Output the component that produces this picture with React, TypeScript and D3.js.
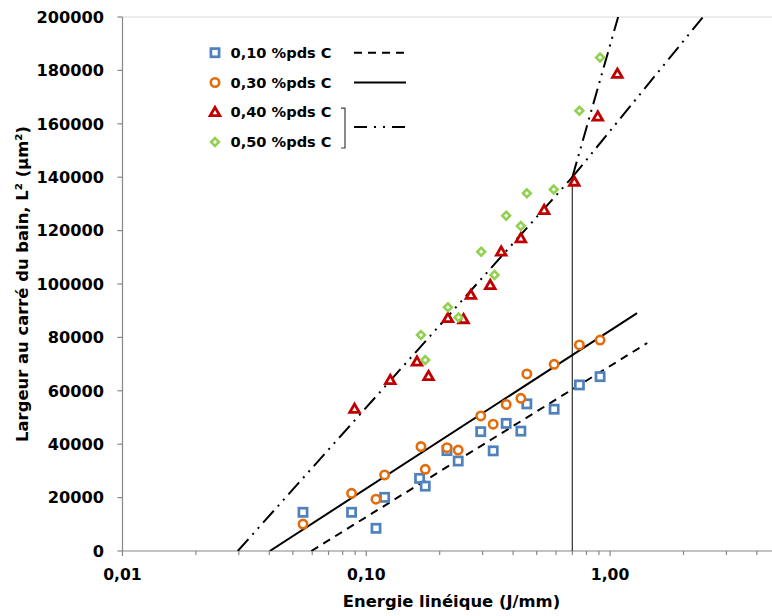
import React from 'react';
import * as d3 from 'd3';

// ---------- data ----------
const s010X = [0.055, 0.087, 0.1096, 0.1189, 0.1654, 0.1745, 0.2142, 0.2382, 0.2947, 0.3315, 0.3748, 0.4305, 0.4556, 0.5895, 0.7484, 0.9099];
const s010Y = [14500, 14500, 8500, 20100, 27200, 24300, 37600, 33700, 44700, 37500, 47800, 44900, 55100, 53100, 62200, 65300];

const s030X = [0.055, 0.087, 0.1096, 0.1189, 0.1676, 0.1745, 0.2142, 0.2382, 0.2947, 0.3315, 0.3748, 0.4305, 0.4556, 0.5895, 0.7484, 0.9099];
const s030Y = [10100, 21600, 19400, 28500, 39100, 30600, 38700, 37800, 50600, 47500, 54900, 57200, 66300, 69900, 77200, 79000];

const s040X = [0.0895, 0.1254, 0.1614, 0.18, 0.2162, 0.2505, 0.2686, 0.3223, 0.3576, 0.4305, 0.5364, 0.7134, 0.8903, 1.0713];
const s040Y = [53200, 64000, 70900, 65500, 87200, 86800, 95900, 99600, 112100, 117100, 127700, 138300, 162700, 178700];

const s050X = [0.1676, 0.1745, 0.2162, 0.2389, 0.296, 0.3356, 0.3748, 0.4305, 0.4556, 0.5872, 0.7484, 0.9099];
const s050Y = [80900, 71500, 91300, 87500, 112100, 103400, 125600, 121700, 134000, 135400, 164900, 184800];

// trend lines (end points)
const trend010X = [0.0595, 1.42];
const trend010Y = [0, 77900];
const trend030X = [0.0402, 1.29];
const trend030Y = [0, 89100];
const trendLowX = [0.0297, 0.7];
const trendLowY = [0, 140000];
const trendSteepX = [0.7, 1.079];
const trendSteepY = [140000, 200000];
const trendShallowX = [0.7, 2.405];
const trendShallowY = [140000, 200000];

const transitionX = 0.7;
const transitionY = 140000;

const xMajorTicks = [0.01, 0.1, 1];
const xMajorLabels = ['0,01', '0,10', '1,00'];
const yTicks = [0, 20000, 40000, 60000, 80000, 100000, 120000, 140000, 160000, 180000, 200000];

const legendLabels = ['0,10 %pds C', '0,30 %pds C', '0,40 %pds C', '0,50 %pds C'];

// ---------- layout ----------
const W = 772;
const H = 616;
const L = 122.5;
const R = 780.5;
const T = 17;
const B = 551;

const BLUE = '#4F81BD';
const ORANGE = '#E46C0A';
const RED = '#C00000';
const GREEN = '#92D050';
const AXIS = '#868686';
const FONT = '"DejaVu Sans", Verdana, sans-serif';

const DASH = '8,6';
const DASHDOTDOT = '16,6,2,6,2,6';

function Square({ x, y }: { x: number; y: number }) {
  return <rect x={x - 4.1} y={y - 4.1} width={8.2} height={8.2} fill="#fff" stroke={BLUE} strokeWidth={2.7} />;
}
function Circle({ x, y }: { x: number; y: number }) {
  return <circle cx={x} cy={y} r={4.2} fill="#fff" stroke={ORANGE} strokeWidth={2.6} />;
}
function Tri({ x, y }: { x: number; y: number }) {
  const d = `M${x},${y - 4.8}L${x + 4.8},${y + 3.5}L${x - 4.8},${y + 3.5}Z`;
  return <path d={d} fill="#fff" stroke={RED} strokeWidth={2.8} strokeLinejoin="miter" />;
}
function Diamond({ x, y }: { x: number; y: number }) {
  const h = 3.9;
  const d = `M${x},${y - h}L${x + h},${y}L${x},${y + h}L${x - h},${y}Z`;
  return <path d={d} fill="#fff" stroke={GREEN} strokeWidth={2.6} />;
}

export default function App() {
  const x = d3.scaleLog().domain([0.01, 5]).range([L, R]);
  const y = d3.scaleLinear().domain([0, 200000]).range([B, T]);

  const line = d3
    .line<[number, number]>()
    .x((d) => x(d[0]))
    .y((d) => y(d[1]));
  const pairs = (xs: number[], ys: number[]) => xs.map((v, i) => [v, ys[i]] as [number, number]);

  const minorTicks: number[] = [];
  for (const dec of xMajorTicks) {
    for (let k = 2; k <= 9; k++) {
      const v = dec * k;
      if (v <= 5) minorTicks.push(v);
    }
  }

  const legY = [52.7, 82.5, 112.2, 142];
  const legMarkX = 215;
  const legTextX = 230.5;

  return (
    <svg
      width={W}
      height={H}
      style={{ position: 'absolute', left: 0, top: 0, background: '#fff' }}
      fontFamily={FONT}
    >
      <defs>
        <clipPath id="plot">
          <rect x={L} y={T} width={R - L} height={B - T} />
        </clipPath>
      </defs>
      <rect x={0} y={0} width={W} height={H} fill="#fff" />
      {/* plot border */}
      <line x1={L} x2={R} y1={T} y2={T} stroke="#D9D9D9" strokeWidth={1.2} />

      {/* y axis */}
      <line x1={L} x2={L} y1={T} y2={B} stroke={AXIS} strokeWidth={1.2} />
      {yTicks.map((t) => (
        <g key={t}>
          <line x1={L - 5} x2={L} y1={y(t)} y2={y(t)} stroke={AXIS} strokeWidth={1.2} />
          <text
            x={104}
            y={y(t)}
            dy="0.36em"
            textAnchor="end"
            fontWeight="bold"
            fontSize={16.2}
            fill="#000"
          >
            {t}
          </text>
        </g>
      ))}

      {/* x axis */}
      <line x1={L} x2={R} y1={B} y2={B} stroke={AXIS} strokeWidth={1.2} />
      {minorTicks.map((t) => (
        <line key={'m' + t} x1={x(t)} x2={x(t)} y1={B} y2={B + 4} stroke={AXIS} strokeWidth={1.2} />
      ))}
      {xMajorTicks.map((t, i) => (
        <g key={'M' + t}>
          <line x1={x(t)} x2={x(t)} y1={B} y2={B + 5} stroke={AXIS} strokeWidth={1.2} />
          <text x={x(t)} y={580} textAnchor="middle" fontWeight="bold" fontSize={15.6} fill="#000">
            {xMajorLabels[i]}
          </text>
        </g>
      ))}

      {/* axis titles */}
      <text x={(L + R) / 2} y={607} textAnchor="middle" fontWeight="bold" fontSize={16.4} fill="#000">
        Energie linéique (J/mm)
      </text>
      <text
        transform={`translate(28,${(T + B) / 2}) rotate(-90)`}
        textAnchor="middle"
        fontWeight="bold"
        fontSize={16.4}
        fill="#000"
      >
        Largeur au carré du bain, L² (µm²)
      </text>

      {/* transition line */}
      <line
        x1={x(transitionX)}
        x2={x(transitionX)}
        y1={y(0)}
        y2={y(transitionY)}
        stroke="#404040"
        strokeWidth={1.3}
      />

      {/* trend lines */}
      <g clipPath="url(#plot)" fill="none" stroke="#000" strokeWidth={2}>
        <path d={line(pairs(trend010X, trend010Y)) || ''} strokeDasharray={DASH} />
        <path d={line(pairs(trend030X, trend030Y)) || ''} />
        <path d={line(pairs(trendLowX, trendLowY)) || ''} strokeDasharray={DASHDOTDOT} />
        <path d={line(pairs(trendSteepX, trendSteepY)) || ''} strokeDasharray={DASHDOTDOT} />
        <path d={line(pairs(trendShallowX, trendShallowY)) || ''} strokeDasharray={DASHDOTDOT} />
      </g>

      {/* markers */}
      <g>
        {s010X.map((v, i) => (
          <Square key={'a' + i} x={x(v)} y={y(s010Y[i])} />
        ))}
        {s030X.map((v, i) => (
          <Circle key={'b' + i} x={x(v)} y={y(s030Y[i])} />
        ))}
        {s040X.map((v, i) => (
          <Tri key={'c' + i} x={x(v)} y={y(s040Y[i])} />
        ))}
        {s050X.map((v, i) => (
          <Diamond key={'d' + i} x={x(v)} y={y(s050Y[i])} />
        ))}
      </g>

      {/* legend */}
      <g>
        <Square x={legMarkX} y={legY[0]} />
        <Circle x={legMarkX} y={legY[1]} />
        <Tri x={legMarkX} y={legY[2]} />
        <Diamond x={legMarkX} y={legY[3]} />
        {legendLabels.map((lab, i) => (
          <text key={lab} x={legTextX} y={legY[i]} dy="0.36em" fontWeight="bold" fontSize={14.6} fill="#000">
            {lab}
          </text>
        ))}
        <line x1={354} x2={406} y1={legY[0]} y2={legY[0]} stroke="#000" strokeWidth={2} strokeDasharray="8,6" />
        <line x1={354} x2={406} y1={legY[1]} y2={legY[1]} stroke="#000" strokeWidth={2} />
        <line
          x1={354}
          x2={406}
          y1={(legY[2] + legY[3]) / 2}
          y2={(legY[2] + legY[3]) / 2}
          stroke="#000"
          strokeWidth={2}
          strokeDasharray="13,7,2,7,2,7"
        />
        <path
          d={`M341,${legY[2] - 4}H345V${legY[3] + 6}H341`}
          fill="none"
          stroke="#404040"
          strokeWidth={1.2}
        />
      </g>
    </svg>
  );
}
